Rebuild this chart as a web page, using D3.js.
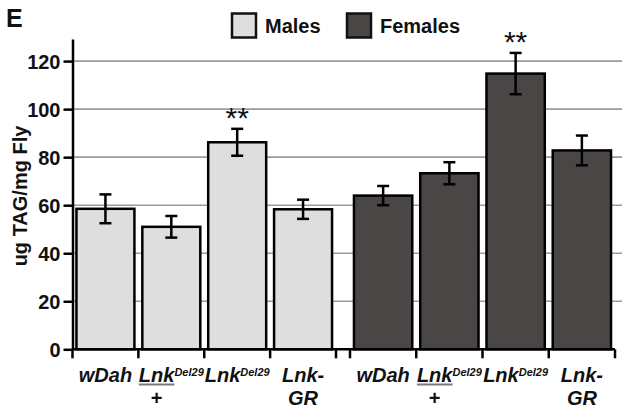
<!DOCTYPE html>
<html>
<head>
<meta charset="utf-8">
<script src="https://cdn.jsdelivr.net/npm/d3@7"></script>
<style>
  html, body { margin: 0; padding: 0; background: #fff; }
  svg { display: block; font-family: "Liberation Sans", Arial, sans-serif; }
</style>
</head>
<body>
<svg id="chart" width="622" height="413"></svg>
<script>
// Genotypes along each sex group
const genotypes = ["wDah", "LnkDel29/+", "LnkDel29", "Lnk-GR"];
// Mean TAG per fly mass (ug TAG / mg fly) and SEM
const maleMeans   = [58.5, 51, 86.2, 58.3];
const maleErrors  = [6, 4.5, 5.6, 4];
const femaleMeans = [64, 73.3, 114.8, 82.8];
const femaleErrors = [4, 4.6, 8.6, 6.2];
// Significance marks
const maleStars   = ["", "", "**", ""];
const femaleStars = ["", "", "**", ""];
const yTicks = [0, 20, 40, 60, 80, 100, 120];
const groups = ["Males", "Females"];
const groupColors = ["#dedede", "#4b4646"];

const svg = d3.select("#chart");

const y = d3.scaleLinear().domain([0, 129.2]).range([349.3, 39]);
const xMale = d3.scaleBand().domain(genotypes).range([72.5, 336]).paddingInner(0.12).paddingOuter(0.06);
const xFemale = d3.scaleBand().domain(genotypes).range([350, 615]).paddingInner(0.12).paddingOuter(0.06);

// Horizontal gridlines
svg.append("g").selectAll("line").data(yTicks.filter(d => d > 0)).join("line")
  .attr("x1", 72.5).attr("x2", 622)
  .attr("y1", d => y(d)).attr("y2", d => y(d))
  .attr("stroke", "#9a9a9a").attr("stroke-width", 1.6);

function drawGroup(x, means, errors, stars, fill) {
  const g = svg.append("g");
  g.selectAll("rect").data(genotypes).join("rect")
    .attr("x", d => x(d)).attr("width", x.bandwidth())
    .attr("y", (d, i) => y(means[i]))
    .attr("height", (d, i) => y(0) - y(means[i]))
    .attr("fill", fill).attr("stroke", "#000").attr("stroke-width", 2.5);
  const cx = d => x(d) + x.bandwidth() / 2;
  const eb = g.selectAll("g.err").data(genotypes).join("g").attr("class", "err")
    .attr("stroke", "#000").attr("stroke-width", 2.5);
  eb.append("line").attr("x1", cx).attr("x2", cx)
    .attr("y1", (d, i) => y(means[i] + errors[i])).attr("y2", (d, i) => y(means[i] - errors[i]));
  eb.append("line").attr("x1", d => cx(d) - 6).attr("x2", d => cx(d) + 6)
    .attr("y1", (d, i) => y(means[i] + errors[i])).attr("y2", (d, i) => y(means[i] + errors[i]));
  eb.append("line").attr("x1", d => cx(d) - 6).attr("x2", d => cx(d) + 6)
    .attr("y1", (d, i) => y(means[i] - errors[i])).attr("y2", (d, i) => y(means[i] - errors[i]));
  g.selectAll("text.star").data(genotypes).join("text").attr("class", "star")
    .attr("x", cx).attr("y", (d, i) => y(means[i] + errors[i]) - 1)
    .attr("text-anchor", "middle").attr("font-size", 30).attr("fill", "#111")
    .text((d, i) => stars[i]);

  // category tick marks at band boundaries
  const step = x.step();
  const r0 = x.range()[0];
  g.selectAll("line.tick").data(d3.range(genotypes.length + 1)).join("line").attr("class", "tick")
    .attr("x1", i => r0 + i * step).attr("x2", i => r0 + i * step)
    .attr("y1", y(0)).attr("y2", y(0) + 9)
    .attr("stroke", "#000").attr("stroke-width", 2.5);

  // category labels
  const lab = g.append("g").attr("font-weight", "bold").attr("font-style", "italic")
    .attr("font-size", 20).attr("fill", "#111").attr("text-anchor", "middle");
  const bc = genotypes.map(cx);
  // wDah
  lab.append("text").attr("x", bc[0]).attr("y", 381.7).text("wDah");
  // Lnk^Del29 / +
  const t2 = lab.append("text").attr("x", bc[1]).attr("y", 381.7);
  t2.append("tspan").text("Lnk");
  t2.append("tspan").attr("font-size", 11).attr("dy", -6).text("Del29");
  const n2 = t2.node();
  const ux0 = n2.getStartPositionOfChar(0).x;
  const ux1 = n2.getEndPositionOfChar(2).x;
  lab.append("line").attr("x1", ux0).attr("x2", ux1).attr("y1", 384.5).attr("y2", 384.5)
    .attr("stroke", "#7a7a7a").attr("stroke-width", 1.8);
  lab.append("text").attr("x", (ux0 + ux1) / 2).attr("y", 405).attr("font-style", "normal").text("+");
  // Lnk^Del29
  const t3 = lab.append("text").attr("x", bc[2]).attr("y", 381.7);
  t3.append("tspan").text("Lnk");
  t3.append("tspan").attr("font-size", 11).attr("dy", -6).text("Del29");
  // Lnk-GR
  lab.append("text").attr("x", bc[3]).attr("y", 381.7).text("Lnk-");
  lab.append("text").attr("x", bc[3]).attr("y", 405).text("GR");
}

drawGroup(xMale, maleMeans, maleErrors, maleStars, groupColors[0]);
drawGroup(xFemale, femaleMeans, femaleErrors, femaleStars, groupColors[1]);

// Baseline
svg.append("line").attr("x1", 72.5).attr("x2", 615).attr("y1", y(0)).attr("y2", y(0))
  .attr("stroke", "#000").attr("stroke-width", 2.5);

// Y axis
const yAxis = svg.append("g").attr("transform", "translate(72.5,0)")
  .call(d3.axisLeft(y).tickValues(yTicks).tickSize(9).tickSizeOuter(0).tickPadding(3));
yAxis.select(".domain").attr("stroke", "#000").attr("stroke-width", 2.5);
yAxis.selectAll(".tick line").attr("stroke", "#000").attr("stroke-width", 2.5);
yAxis.selectAll(".tick text").attr("font-size", 20).attr("font-weight", "bold")
  .attr("fill", "#111").attr("font-family", "Liberation Sans, Arial, sans-serif")
  .attr("dy", "0.36em");

// Y axis title
svg.append("text").attr("transform", "translate(27,196) rotate(-90)")
  .attr("text-anchor", "middle").attr("font-size", 20).attr("font-weight", "bold")
  .attr("fill", "#111").text("ug TAG/mg Fly");

// Panel letter
svg.append("text").attr("x", 6).attr("y", 26.7).attr("font-size", 25).attr("font-weight", "bold")
  .attr("fill", "#111").text("E");

// Legend
const legendX = [232, 347];
const leg = svg.append("g").selectAll("g").data(groups).join("g")
  .attr("transform", (d, i) => `translate(${legendX[i]},13.5)`);
leg.append("rect").attr("width", 24).attr("height", 24)
  .attr("fill", (d, i) => groupColors[i]).attr("stroke", "#111").attr("stroke-width", 2.5);
leg.append("text").attr("x", 33).attr("y", 19.8).attr("font-size", 20).attr("font-weight", "bold")
  .attr("fill", "#111").text(d => d);
</script>
</body>
</html>
